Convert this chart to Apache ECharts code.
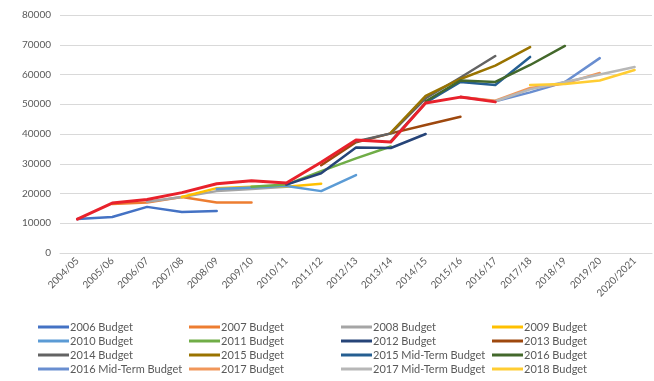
<!DOCTYPE html>
<html>
<head>
<meta charset="utf-8">
<script src="https://cdn.jsdelivr.net/npm/echarts@6/dist/echarts.min.js"></script>
<style>
  html, body { margin: 0; padding: 0; background: #fff; }
  #chart { width: 654px; height: 381px; }
</style>
</head>
<body>
<div id="chart"></div>
<script>
// Fiscal years on the category axis
const categories = ['2004/05', '2005/06', '2006/07', '2007/08', '2008/09', '2009/10', '2010/11',
  '2011/12', '2012/13', '2013/14', '2014/15', '2015/16', '2016/17', '2017/18', '2018/19',
  '2019/20', '2020/2021'];

const yTicks = [0, 10000, 20000, 30000, 40000, 50000, 60000, 70000, 80000];

// Projections per budget (null = year not covered by that budget)
const b2006   = [11400, 12100, 15500, 13800, 14100, null, null, null, null, null, null, null, null, null, null, null, null];
const b2007   = [null, 16500, 17000, 18800, 17000, 17000, null, null, null, null, null, null, null, null, null, null, null];
const b2008   = [null, null, 17200, 18800, 20800, 21500, 22300, null, null, null, null, null, null, null, null, null, null];
const b2009   = [null, null, null, 18800, 21800, 22300, 22300, 23300, null, null, null, null, null, null, null, null, null];
const b2010   = [null, null, null, null, 21500, 22000, 22500, 20800, 26200, null, null, null, null, null, null, null, null];
const b2011   = [null, null, null, null, null, 22300, 23000, 27500, 31800, 35800, null, null, null, null, null, null, null];
const b2012   = [null, null, null, null, null, null, 23000, 26800, 35500, 35300, 40000, null, null, null, null, null, null];
const b2013   = [null, null, null, null, null, null, null, 29500, 37200, 40200, 43000, 45800, null, null, null, null, null];
const b2014   = [null, null, null, null, null, null, null, null, 37500, 40200, 52000, 59000, 66200, null, null, null, null];
const b2015   = [null, null, null, null, null, null, null, null, null, 40500, 52800, 58500, 63000, 69200, null, null, null];
const b2015mt = [null, null, null, null, null, null, null, null, null, 37500, 50500, 57500, 56500, 65900, null, null, null];
const b2016   = [null, null, null, null, null, null, null, null, null, null, 51000, 58000, 57500, 63200, 69600, null, null];
const b2016mt = [null, null, null, null, null, null, null, null, null, null, null, 52400, 51000, 54000, 57500, 65500, null];
const b2017   = [null, null, null, null, null, null, null, null, null, null, null, 52400, 51200, 55500, 57000, 60500, null];
const b2017mt = [null, null, null, null, null, null, null, null, null, null, null, null, 51000, 55000, 57500, 60000, 62500];
const b2018   = [null, null, null, null, null, null, null, null, null, null, null, null, null, 56500, 56800, 58000, 61500];
const outturn = [11400, 16800, 18000, 20300, 23300, 24300, 23500, 30500, 38000, 37300, 50400, 52400, 50800, null, null, null, null];

const seriesDefs = [
  ['2006 Budget', b2006, '#4472C4'],
  ['2007 Budget', b2007, '#ED7D31'],
  ['2008 Budget', b2008, '#A5A5A5'],
  ['2009 Budget', b2009, '#FFC000'],
  ['2010 Budget', b2010, '#5B9BD5'],
  ['2011 Budget', b2011, '#70AD47'],
  ['2012 Budget', b2012, '#264478'],
  ['2013 Budget', b2013, '#9E480E'],
  ['2014 Budget', b2014, '#636363'],
  ['2015 Budget', b2015, '#997300'],
  ['2015 Mid-Term Budget', b2015mt, '#255E91'],
  ['2016 Budget', b2016, '#43682B'],
  ['2016 Mid-Term Budget', b2016mt, '#698ED0'],
  ['2017 Budget', b2017, '#F1975A'],
  ['2017 Mid-Term Budget', b2017mt, '#B7B7B7'],
  ['2018 Budget', b2018, '#FFCD33'],
  ['Outturn', outturn, '#E8212B']
];

const series = seriesDefs.map(([name, data, color]) => ({
  name: name,
  type: 'line',
  data: data,
  color: color,
  symbol: 'none',
  connectNulls: false,
  lineStyle: { width: name === 'Outturn' ? 3 : 2.5, color: color, join: 'round', cap: 'round' },
  emphasis: { disabled: true }
}));

// Legend laid out as a 4-column grid, one entry per cell
const legendCols = [
  ['2006 Budget', '2010 Budget', '2014 Budget', '2016 Mid-Term Budget'],
  ['2007 Budget', '2011 Budget', '2015 Budget', '2017 Budget'],
  ['2008 Budget', '2012 Budget', '2015 Mid-Term Budget', '2017 Mid-Term Budget'],
  ['2009 Budget', '2013 Budget', '2016 Budget', '2018 Budget']
];
const legendLeft = [38, 189, 341, 492];
const legendTop = 320;
const legendRowStep = 14;

const legends = [];
legendCols.forEach((names, col) => {
  names.forEach((name, row) => {
    legends.push({
      orient: 'horizontal',
      left: legendLeft[col],
      top: legendTop + row * legendRowStep,
      data: [name],
      icon: 'rect',
      itemWidth: 31,
      itemHeight: 3,
      padding: 0,
      selectedMode: false,
      textStyle: { color: '#595959', fontSize: 11, lineHeight: 14, fontFamily: 'Lato', padding: [0, 0, 0, -4] }
    });
  });
});

const chart = echarts.init(document.getElementById('chart'), null, { renderer: 'canvas' });
chart.setOption({
  animation: false,
  backgroundColor: '#ffffff',
  grid: { left: 60, right: 2, top: 15, bottom: 128, containLabel: false },
  xAxis: {
    type: 'category',
    data: categories,
    boundaryGap: true,
    axisLine: { lineStyle: { color: '#D9D9D9', width: 1 } },
    axisTick: { show: false },
    axisLabel: { rotate: 45, color: '#595959', fontSize: 10, fontFamily: 'Lato', interval: 0, margin: 6 }
  },
  yAxis: {
    type: 'value',
    min: yTicks[0],
    max: yTicks[yTicks.length - 1],
    interval: yTicks[1] - yTicks[0],
    axisLine: { show: false },
    axisTick: { show: false },
    splitLine: { lineStyle: { color: '#D9D9D9', width: 1 } },
    axisLabel: { color: '#595959', fontSize: 10, fontFamily: 'Lato', margin: 9, formatter: v => String(v) }
  },
  legend: legends,
  series: series
});
</script>
</body>
</html>
